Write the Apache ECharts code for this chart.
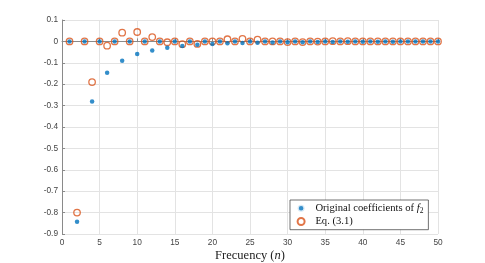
<!DOCTYPE html>
<html>
<head>
<meta charset="utf-8">
<script src="https://cdn.jsdelivr.net/npm/echarts@6/dist/echarts.min.js"></script>
<style>
html,body{margin:0;padding:0;background:#fff;}
#chart{width:485px;height:263px;}
</style>
</head>
<body>
<div id="chart"></div>
<script>
const freq = [1,2,3,4,5,6,7,8,9,10,11,12,13,14,15,16,17,18,19,20,21,22,23,24,25,26,27,28,29,30,31,32,33,34,35,36,37,38,39,40,41,42,43,44,45,46,47,48,49,50];
const original = [0,-0.843,0,-0.281,0,-0.146,0,-0.090,0,-0.059,0,-0.042,0,-0.030,0,-0.022,0,-0.016,0,-0.012,0,-0.009,0,-0.008,0,-0.006,0,-0.005,0,-0.004,0,-0.004,0,-0.003,0,-0.003,0,-0.002,0,-0.002,0,-0.002,0,-0.002,0,-0.001,0,-0.001,0,-0.001];
const eq31 = [0,-0.800,0,-0.190,0,-0.020,0,0.041,0,0.044,0,0.020,0,-0.004,0,-0.013,0,-0.012,0,0.000,0,0.010,0,0.012,0,0.008,0,0.000,0,-0.003,0,-0.003,0,-0.001,0,0.001,0,0.001,0,0.000,0,0,0,0,0,0,0,0,0,0];
const xTicks = {min: 0, max: 50, step: 5};
const yTicks = {min: -0.9, max: 0.1, step: 0.1};
const seriesNames = ['Original coefficients of f2', 'Eq. (3.1)'];

const serif = 'Liberation Serif';
const sans = 'Liberation Sans';
const chart = echarts.init(document.getElementById('chart'), null, {renderer: 'canvas'});
chart.setOption({
  animation: false,
  backgroundColor: '#fff',
  grid: {left: 62, right: 47, top: 20, bottom: 29, outerBoundsMode: 'none'},
  xAxis: {
    type: 'value', min: xTicks.min, max: xTicks.max, interval: xTicks.step,
    name: 'Frecuency ({it|n})', nameLocation: 'middle', nameGap: 15, nameMoveOverlap: false,
    nameTextStyle: {fontFamily: serif, fontSize: 12.5, color: '#222',
      rich: {it: {fontFamily: serif, fontStyle: 'italic', fontSize: 12.5, color: '#222'}}},
    axisLine: {show: true, lineStyle: {color: '#8a8a8a', width: 1}},
    axisTick: {show: true, inside: true, length: 3, lineStyle: {color: '#8a8a8a'}},
    axisLabel: {fontFamily: sans, fontSize: 8.3, color: '#444', margin: 5},
    splitLine: {show: true, lineStyle: {color: '#e3e3e3', width: 1}}
  },
  yAxis: {
    type: 'value', min: yTicks.min, max: yTicks.max, interval: yTicks.step,
    axisLine: {show: true, lineStyle: {color: '#8a8a8a', width: 1}},
    axisTick: {show: true, inside: true, length: 3, lineStyle: {color: '#8a8a8a'}},
    axisLabel: {fontFamily: sans, fontSize: 8.3, color: '#444', margin: 4,
      formatter: v => { const r = Math.round(v * 10) / 10; return Math.abs(r) < 1e-9 ? '0' : r.toFixed(1); }},
    splitLine: {show: true, lineStyle: {color: '#e3e3e3', width: 1}}
  },
  legend: {
    orient: 'vertical', left: 290, top: 200,
    padding: [2.7, 5, 2.7, 6.4],
    itemWidth: 18.6, itemHeight: 7, itemGap: 1.3,
    backgroundColor: '#fff', borderColor: '#333', borderWidth: 0.7,
    selectedMode: false,
    data: [
      {name: seriesNames[0], itemStyle: {borderColor: '#fff', borderWidth: 2.4}},
      {name: seriesNames[1]}
    ],
    formatter: name => name === seriesNames[0] ? 'Original coefficients of {it|f}{sub|2}' : name,
    textStyle: {fontFamily: serif, fontSize: 10.6, color: '#111', lineHeight: 10,
      rich: {
        it: {fontFamily: serif, fontStyle: 'italic', fontSize: 10.6, color: '#111', lineHeight: 10},
        sub: {fontFamily: serif, fontSize: 7.5, color: '#111', padding: [5, 0, 0, 0]}
      }}
  },
  series: [
    {
      type: 'scatter', name: seriesNames[0], z: 3, silent: true,
      symbol: 'circle', symbolSize: 4.5,
      itemStyle: {color: '#0072BD'},
      emphasis: {disabled: true},
      data: freq.map((n, i) => [n, original[i]])
    },
    {
      type: 'scatter', name: seriesNames[1], z: 2, silent: true,
      symbol: 'circle', symbolSize: 6.5,
      itemStyle: {color: 'rgba(0,0,0,0)', borderColor: '#D95319', borderWidth: 1.3},
      emphasis: {disabled: true},
      data: freq.map((n, i) => [n, eq31[i]])
    }
  ]
});
</script>
</body>
</html>
